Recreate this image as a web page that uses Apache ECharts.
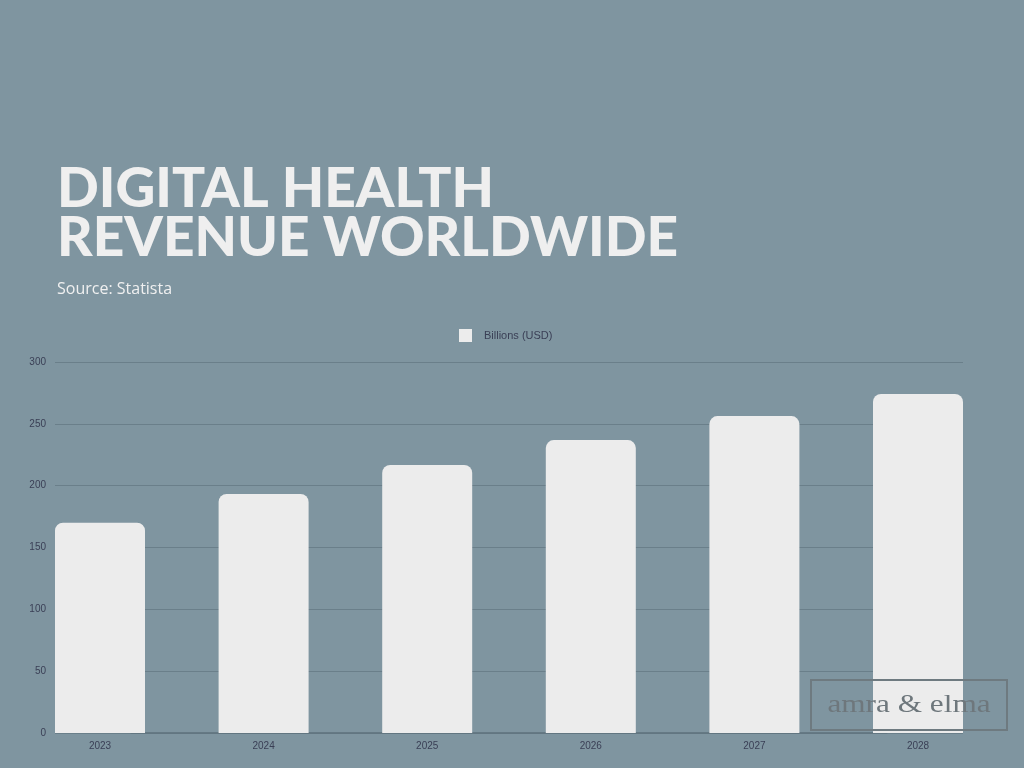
<!DOCTYPE html>
<html><head><meta charset="utf-8">
<script src="https://cdn.jsdelivr.net/npm/echarts@6/dist/echarts.min.js"></script>
<style>html,body{margin:0;padding:0;background:#7f95a0;}#c{width:1024px;height:768px;}</style>
</head><body><div id="c"></div>
<script>
const categories = ['2023','2024','2025','2026','2027','2028'];
const revenue = [170, 193.3, 216.7, 236.9, 256.3, 274.1];
const yTicks = [0, 50, 100, 150, 200, 250, 300];
const seriesName = 'Billions (USD)';

const chart = echarts.init(document.getElementById('c'));
chart.setOption({
  backgroundColor: '#7f95a0',
  animation: false,
  graphic: [
    { type: 'text', left: 57, top: 162, style: { text: 'DIGITAL HEALTH\nREVENUE WORLDWIDE', fill: '#efefef', font: '900 55px Lato', lineHeight: 49 } },
    { type: 'text', left: 57, top: 281, style: { text: 'Source: Statista', fill: '#f0f0f0', font: '16px "Open Sans"' } },
    { type: 'rect', z: 100, shape: { x: 811, y: 680, width: 196, height: 50 }, style: { fill: 'none', stroke: '#6e7a80', lineWidth: 2 } },
    { type: 'text', z: 101, x: 909, y: 705, scaleX: 1.25, originX: 0, originY: 0,
      style: { text: 'amra & elma', fill: '#6e777c', font: '25px "Liberation Serif"', align: 'center', verticalAlign: 'middle' } }
  ],
  legend: {
    top: 324, left: 454, itemWidth: 13, itemHeight: 13, itemGap: 12,
    icon: 'rect',
    textStyle: { color: '#3a3f55', fontSize: 11, fontFamily: 'Liberation Sans', padding: [0, 0, 0, 7] },
    data: [seriesName]
  },
  grid: [
    { left: 55, right: 61, top: 362, bottom: 35 },
    { left: 100, right: 106, top: 362, bottom: 35 }
  ],
  xAxis: [
    { type: 'category', gridIndex: 0, data: categories, show: false },
    { type: 'category', gridIndex: 1, data: categories, boundaryGap: false,
      axisLine: { show: false }, axisTick: { show: false },
      axisLabel: { color: '#3a3f55', fontSize: 10, fontFamily: 'Liberation Sans', margin: 8 } }
  ],
  yAxis: [
    { type: 'value', gridIndex: 0, min: 0, max: 300, interval: 50,
      axisLine: { show: false }, axisTick: { show: false },
      axisLabel: { color: '#3a3f55', fontSize: 10, fontFamily: 'Liberation Sans', margin: 9 },
      splitLine: { lineStyle: { color: '#6a7f8a', width: 1 } } },
    { type: 'value', gridIndex: 1, min: 0, max: 300, interval: 50, show: false }
  ],
  series: [
    { type: 'line', xAxisIndex: 0, yAxisIndex: 0, data: [0,0,0,0,0,0], showSymbol: false, silent: true,
      lineStyle: { color: '#4d5d69', width: 1 }, z: 1 },
    { name: seriesName, type: 'bar', xAxisIndex: 1, yAxisIndex: 1, data: revenue, barWidth: 90, clip: false,
      itemStyle: { color: '#ececec', borderRadius: [8, 8, 0, 0] }, z: 2 }
  ]
});
</script></body></html>
